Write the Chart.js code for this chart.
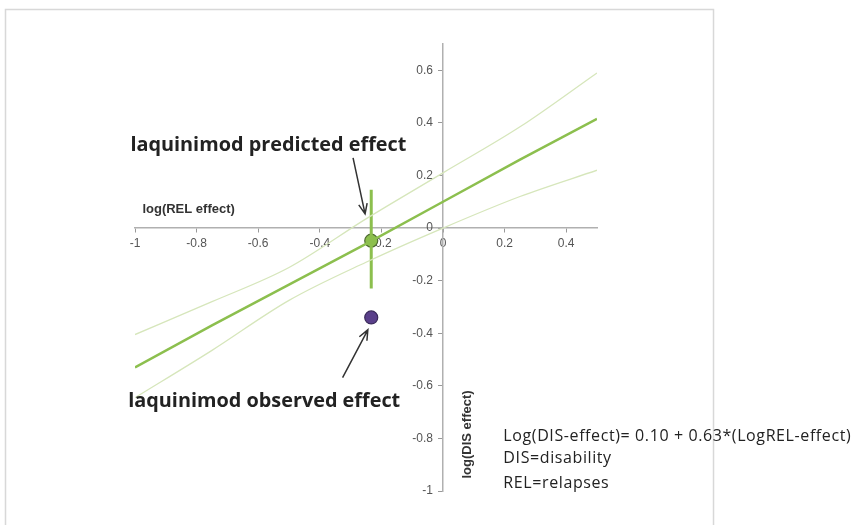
<!DOCTYPE html>
<html>
<head>
<meta charset="utf-8">
<script src="https://cdn.jsdelivr.net/npm/chart.js@4/dist/chart.umd.min.js"></script>
<style>
  html, body { margin: 0; padding: 0; background: #fff; }
</style>
</head>
<body>
<canvas id="chart" width="860" height="525"></canvas>
<script>
// log(REL effect) sample points and the fitted line with its confidence band
const relEffect = [-1, -0.75, -0.5, -0.25, 0, 0.25, 0.5];
const fitLine   = [-0.53, -0.37, -0.215, -0.06, 0.10, 0.26, 0.415];
const upperBand = [-0.405, -0.28, -0.15, 0.035, 0.21, 0.385, 0.59];
const lowerBand = [-0.645, -0.465, -0.275, -0.13, 0.0, 0.12, 0.22];

// laquinimod
const laqRel = -0.233;
const laqPredicted = -0.048;
const laqPredictedRange = [0.146, -0.23];
const laqObserved = -0.34;

const xTicks = [-1, -0.8, -0.6, -0.4, -0.2, 0, 0.2, 0.4];
const yTicks = [-1, -0.8, -0.6, -0.4, -0.2, 0, 0.2, 0.4, 0.6];

const equationLines = [
  'Log(DIS-effect)= 0.10 + 0.63*(LogREL-effect)',
  'DIS=disability',
  'REL=relapses'
];

function pts(ys) {
  return relEffect.map((x, i) => ({ x: x, y: ys[i] }));
}

// frame, labels and arrows
const decorations = {
  id: 'decorations',
  beforeDraw(chart) {
    const ctx = chart.ctx;
    ctx.save();
    ctx.strokeStyle = '#d8d8d8';
    ctx.lineWidth = 1.5;
    ctx.strokeRect(5.5, 9.5, 708, 540);
    ctx.restore();
  },
  afterDraw(chart) {
    const ctx = chart.ctx;
    const sx = chart.scales.x, sy = chart.scales.y;
    const px = v => sx.getPixelForValue(v);
    const py = v => sy.getPixelForValue(v);

    function arrow(x1, y1, x2, y2) {
      const a = px(x1), b = py(y1), c = px(x2), d = py(y2);
      const ang = Math.atan2(d - b, c - a);
      ctx.beginPath();
      ctx.moveTo(a, b);
      ctx.lineTo(c, d);
      ctx.moveTo(c - 11 * Math.cos(ang - 0.4), d - 11 * Math.sin(ang - 0.4));
      ctx.lineTo(c, d);
      ctx.lineTo(c - 11 * Math.cos(ang + 0.4), d - 11 * Math.sin(ang + 0.4));
      ctx.stroke();
    }

    ctx.save();
    ctx.fillStyle = '#222';
    ctx.textBaseline = 'middle';
    ctx.textAlign = 'left';

    ctx.font = 'bold 20px "Open Sans"';
    ctx.fillText('laquinimod predicted effect', px(-1.015), py(0.316), 276);
    ctx.fillText('laquinimod observed effect', px(-1.022), py(-0.660), 272);

    ctx.font = 'bold 13px "Liberation Sans"';
    ctx.fillStyle = '#333';
    ctx.fillText('log(REL effect)', px(-0.976), py(0.070), 97);

    ctx.save();
    ctx.translate(px(0.08), py(-0.785));
    ctx.rotate(-Math.PI / 2);
    ctx.textAlign = 'center';
    ctx.fillText('log(DIS effect)', 0, 0, 92);
    ctx.restore();

    ctx.fillStyle = '#222';
    ctx.font = '16px "Open Sans"';
    ctx.letterSpacing = '0.6px';
    const eqY = [-0.794, -0.877, -0.972];
    equationLines.forEach((t, i) => {
      ctx.fillText(t, px(0.196), py(eqY[i]), i === 0 ? 356 : undefined);
    });
    ctx.letterSpacing = '0px';

    ctx.strokeStyle = '#333';
    ctx.lineWidth = 1.5;
    arrow(-0.292, 0.267, -0.253, 0.054);
    arrow(-0.326, -0.569, -0.244, -0.387);
    ctx.restore();
  }
};

const axisTicks = list => scale => { scale.ticks = list.map(v => ({ value: v })); };
const fmt = v => String(+Number(v).toFixed(1));

new Chart(document.getElementById('chart'), {
  type: 'scatter',
  data: {
    datasets: [
      { data: pts(upperBand), showLine: true, borderColor: '#d6e6bb', borderWidth: 1.3, pointRadius: 0, cubicInterpolationMode: 'monotone' },
      { data: pts(lowerBand), showLine: true, borderColor: '#d6e6bb', borderWidth: 1.3, pointRadius: 0, cubicInterpolationMode: 'monotone' },
      { data: pts(fitLine), showLine: true, borderColor: '#8cbf4e', borderWidth: 2.5, pointRadius: 0 },
      { data: laqPredictedRange.map(y => ({ x: laqRel, y: y })), showLine: true, borderColor: '#8cbf4e', borderWidth: 3, pointRadius: 0 },
      { data: [{ x: laqRel, y: laqPredicted }], pointRadius: 6.5, backgroundColor: '#8cbf4e', borderColor: '#4f6b33', borderWidth: 1.2 },
      { data: [{ x: laqRel, y: laqObserved }], pointRadius: 6.5, backgroundColor: '#5a3f8a', borderColor: '#3a2a5a', borderWidth: 1.2 }
    ]
  },
  options: {
    responsive: false,
    animation: false,
    layout: { padding: { left: 135, right: 263, top: 44, bottom: 34 } },
    plugins: { legend: { display: false }, tooltip: { enabled: false } },
    scales: {
      x: {
        type: 'linear',
        min: -1, max: 0.5,
        position: { y: 0 },
        afterBuildTicks: axisTicks(xTicks),
        grid: { drawOnChartArea: false, tickLength: 4, color: '#999' },
        border: { color: '#b0b0b0', width: 1.5 },
        ticks: { font: { family: 'Liberation Sans', size: 12 }, color: '#555', padding: 4, callback: fmt }
      },
      y: {
        type: 'linear',
        min: -1, max: 0.7,
        position: { x: 0 },
        afterBuildTicks: axisTicks(yTicks),
        grid: { drawOnChartArea: false, tickLength: 4, color: '#999' },
        border: { color: '#b0b0b0', width: 1.5 },
        // trailing spaces keep the right-aligned labels clear of the axis line
        ticks: { font: { family: 'Liberation Sans', size: 12 }, color: '#555', callback: v => fmt(v) + '   ' }
      }
    }
  },
  plugins: [decorations]
});
</script>
</body>
</html>
